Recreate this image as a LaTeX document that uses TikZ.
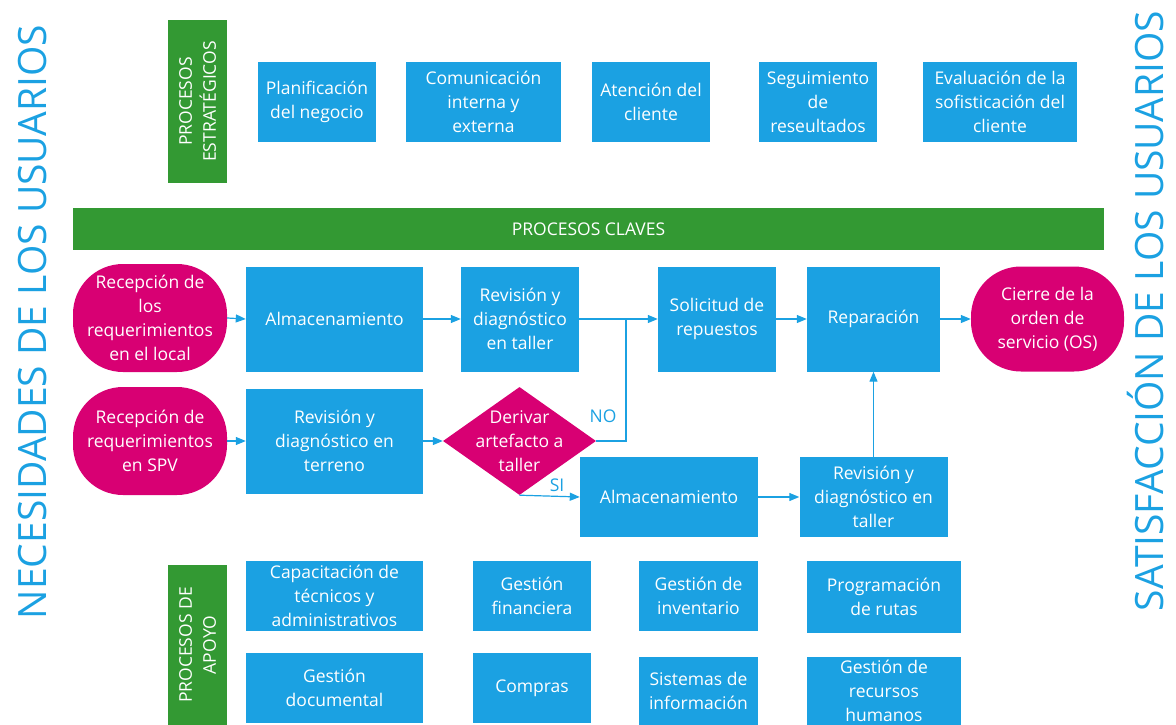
\documentclass[tikz,border=0pt]{standalone}
\usepackage{fontspec}
\setmainfont{Open Sans}
\usetikzlibrary{arrows.meta,shapes.geometric}
\definecolor{mblue}{HTML}{1BA1E2}
\definecolor{mpink}{HTML}{D80073}
\definecolor{mgreen}{HTML}{339933}
\begin{document}
\begin{tikzpicture}[x=1pt,y=-1pt,
  txt/.style={text=white, inner sep=0pt, align=center, font=\fontsize{17.5}{24}\selectfont},
  bx/.style 2 args={txt, fill=mblue, minimum width=#1pt, minimum height=#2pt},
  gbx/.style 2 args={txt, fill=mgreen, minimum width=#1pt, minimum height=#2pt},
  term/.style 2 args={txt, fill=mpink, rounded corners=50pt, minimum width=#1pt, minimum height=#2pt},
  diam/.style={fill=mpink, diamond, inner sep=0pt, minimum width=153pt, minimum height=108pt},
  side/.style={text=mblue, inner sep=0pt, font=\fontsize{39}{42}\selectfont},
  lbl/.style={text=mblue, inner sep=0pt, font=\fontsize{17.5}{20}\selectfont},
  arr/.style={draw=mblue, line width=1.2pt, -{Triangle[length=10pt,width=8pt]}},
  ln/.style={draw=mblue, line width=1.2pt}]
\useasboundingbox (0,0) rectangle (1176,725);

% side texts
\node[side, rotate=90] (nec) at (33,322) {NECESIDADES DE LOS USUARIOS};
\node[side, rotate=90] (sat) at (1146,311) {SATISFACCIÓN DE LOS USUARIOS};

% strategic
\node[gbx={59}{163}] (est) at (197.5,101.5) {};
\node[txt, rotate=90] at (est) {PROCESOS\\ESTRATÉGICOS};
\node[bx={118}{80}] (s1) at (317,102) {Planificación\\del negocio};
\node[bx={155}{80}] (s2) at (483.5,102) {Comunicación\\interna y\\externa};
\node[bx={118}{80}] (s3) at (651,102) {Atención del\\cliente};
\node[bx={118}{80}] (s4) at (818,102) {Seguimiento\\de\\reseultados};
\node[bx={154}{80}] (s5) at (1000,102) {Evaluación de la\\sofisticación del\\cliente};

% key processes bar
\node[gbx={1031}{42}] (claves) at (588.5,229) {PROCESOS CLAVES};

% row 1
\node[term={154}{108}] (p1) at (150,318) {Recepción de\\los\\requerimientos\\en el local};
\node[bx={177}{105}] (alm1) at (334.5,319) {Almacenamiento};
\node[bx={118}{105}] (rev1) at (520,319) {Revisión y\\diagnóstico\\en taller};
\node[bx={118}{105}] (sol) at (717,319) {Solicitud de\\repuestos};
\node[bx={133}{105}] (rep) at (873.5,319) {Reparación};
\node[term={153}{105}] (cie) at (1047.5,319) {Cierre de la\\orden de\\servicio (OS)};

% row 2
\node[term={154}{108}] (p2) at (150,441) {Recepción de\\requerimientos\\en SPV};
\node[bx={177}{105}] (rt) at (334.5,441) {Revisión y\\diagnóstico en\\terreno};
\node[diam] (d) at (519.5,441) {};
\node[txt] at (d) {Derivar\\artefacto a\\taller};
\node[bx={178}{80}] (alm2) at (669,497) {Almacenamiento};
\node[bx={148}{80}] (rev2) at (873.5,497) {Revisión y\\diagnóstico en\\taller};

\coordinate (j) at (626,319);
\node[lbl] (no) at (603,416) {NO};
\node[lbl] (si) at (557,485) {SI};

% connectors
\draw[arr] (p1.east) -- (alm1.west);
\draw[arr] (alm1.east) -- (rev1.west);
\draw[arr] (rev1.east) -- (sol.west);
\draw[arr] (sol.east) -- (rep.west);
\draw[arr] (rep.east) -- (cie.west);
\draw[arr] (p2.east) -- (rt.west);
\draw[arr] (rt.east) -- (d.west);
\draw[ln] (d.east) -| (j);
\draw[arr] (d.south) -- (alm2.west);
\draw[arr] (alm2.east) -- (rev2.west);
\draw[arr] (rev2.north) -- (rep.south);

% support
\node[gbx={59}{160}] (apo) at (197.5,645) {};
\node[txt, rotate=90] at (apo) {PROCESOS DE\\APOYO};
\node[bx={177}{70}] (cap) at (334.5,596) {Capacitación de\\técnicos y\\administrativos};
\node[bx={118}{70}] (fin) at (532,596) {Gestión\\financiera};
\node[bx={119}{70}] (inv) at (698.5,596) {Gestión de\\inventario};
\node[bx={154}{72}] (prog) at (884,597) {Programación\\de rutas};
\node[bx={177}{70}] (doc) at (334.5,688) {Gestión\\documental};
\node[bx={118}{70}] (com) at (532,688) {Compras};
\node[bx={119}{68}] (sis) at (698.5,691) {Sistemas de\\información};
\node[bx={154}{68}] (rrhh) at (884,691) {Gestión de\\recursos\\humanos};
\end{tikzpicture}
\end{document}
